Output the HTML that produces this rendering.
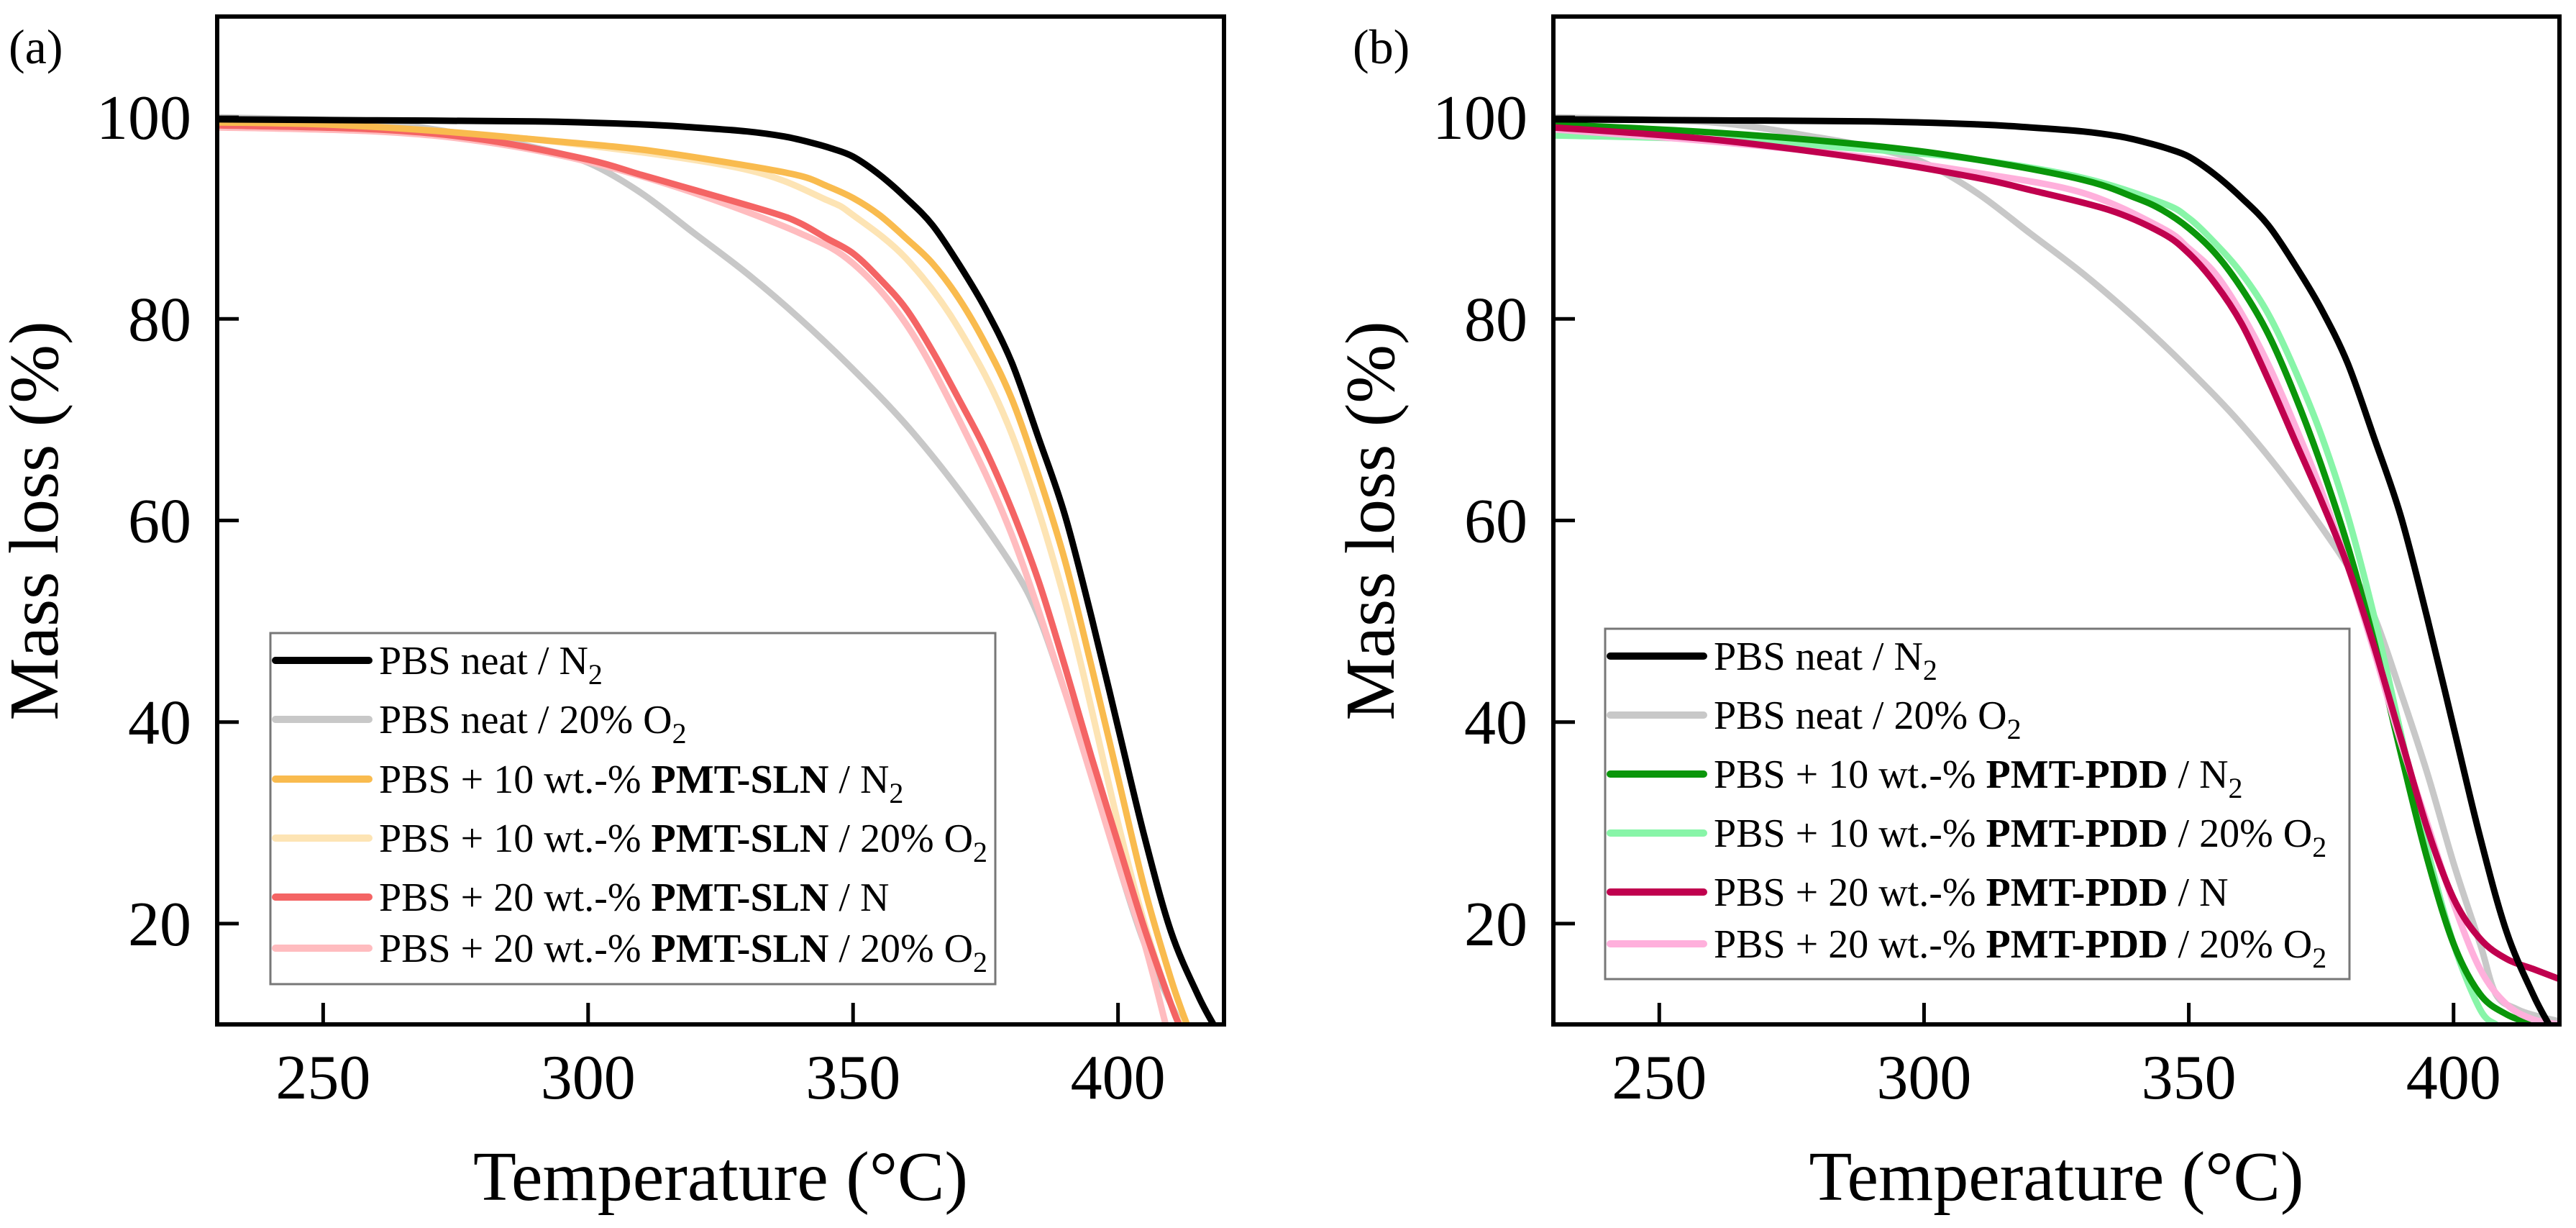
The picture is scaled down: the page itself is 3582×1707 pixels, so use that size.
<!DOCTYPE html>
<html><head><meta charset="utf-8"><style>
html,body{margin:0;padding:0;background:#fff;}
svg{display:block;}
svg text{font-family:"Liberation Serif","Times New Roman","DejaVu Serif",serif;}
</style></head><body>
<svg id="fig" width="3582" height="1707" viewBox="0 0 3582 1707" xmlns="http://www.w3.org/2000/svg"></svg>
<script>
// ---- data ----
const xTicks = [250, 300, 350, 400];
const yTicks = [20, 40, 60, 80, 100];
const xDomain = [230, 420];
const yDomain = [10, 110];

const tA_black = [230,260,290,310,320,330,337,342,346,350,355,360,365,370,375,380,385,390,395,400,405,410,415,418];
const mA_black = [99.8,99.7,99.6,99.3,99,98.6,98.1,97.5,96.9,96.1,94.3,92,89.3,85.4,81,75.6,68.2,60.5,50.4,39.5,28.6,19.2,13,10];
const tA_gray = [230,260,280,290,300,310,320,330,340,350,360,370,380,385,390,395,400,405,410,412];
const mA_gray = [100,99.5,98,97,95.5,92.5,88.5,84.5,80,75,69.5,63,55.5,50.5,43,35,26,18,12,10];
const tA_orange = [230,250,270,290,310,330,340,345,350,355,360,365,370,375,380,385,390,395,400,405,410,413];
const mA_orange = [99.5,99.3,98.7,97.8,96.8,95.2,94.2,93.2,92,90.3,88,85.5,82,77.5,72,64.5,56,45.5,34.5,23.5,14.5,10];
const tA_yellow = [230,270,300,330,345,350,360,370,380,390,400,405,410,412];
const mA_yellow = [99.8,98.7,97.2,94.8,91.8,90.3,86,79,68.5,52,30,20,12,10];
const tA_red = [230,260,280,300,310,320,335,340,345,350,355,360,365,370,375,380,385,390,395,400,405,410,411.5];
const mA_red = [99.2,98.8,97.8,95.8,94.3,92.8,90.5,89.5,88,86.5,84,81,76.8,72,67,61,54,45.5,36.5,28,19.5,12,10];
const tA_pink = [230,260,280,300,320,340,350,360,370,380,390,400,405,409];
const mA_pink = [99,98.6,97.6,95.6,92.5,88.5,85.5,79.5,70,58.5,43,26,18,10];

const tB_black = tA_black, mB_black = mA_black;
const tB_gray = [230,260,280,290,300,310,320,330,340,350,360,370,380,385,390,395,400,405,408,412,416,420];
const mB_gray = [100,99.5,98,97,95.5,92.5,88.5,84.5,80,75,69.5,63,55.5,50.5,43,35,26,18,13,11.5,10.8,10.3];
const tB_green = [230,260,290,310,330,340,345,350,355,360,365,370,375,380,385,390,395,400,405,410,415];
const mB_green = [99.3,98.5,97.2,95.8,93.8,92,90.8,89,86.5,83,78.5,72.5,65.5,57.5,48,37,26.5,18,13,11,10];
const tB_lgreen = [230,260,290,310,330,345,350,355,360,365,370,375,380,385,390,395,400,405,408];
const mB_lgreen = [98.2,97.8,96.8,95.8,94,91.5,90,87.5,84.5,80.5,75,68.5,60.5,50.5,39,27.5,18,11.5,10];
const tB_crimson = [230,260,290,310,320,335,345,350,355,360,365,370,375,380,385,390,395,400,405,410,415,420];
const mB_crimson = [99,97.8,95.8,94,92.8,90.8,88.5,86.5,83.5,79.5,74,68,62,55.5,47.5,38.5,29.5,22.5,18.5,16.5,15.5,14.5];
const tB_pink = [230,260,290,310,330,345,350,355,360,365,370,375,380,385,390,395,400,405,410,415,420];
const mB_pink = [98.8,97.6,96,94.5,92.5,89,87,84.5,80.5,75.5,69.5,63,55.5,47,38,30,22,15.5,12,10.5,10];

const legendA = [
 {c:'#000000', parts:[['PBS neat / N',0],['2',2]]},
 {c:'#c8c8c8', parts:[['PBS neat / 20% O',0],['2',2]]},
 {c:'#f9bb4e', parts:[['PBS + 10 wt.-% ',0],['PMT-SLN',1],[' / N',0],['2',2]]},
 {c:'#fde4b4', parts:[['PBS + 10 wt.-% ',0],['PMT-SLN',1],[' / 20% O',0],['2',2]]},
 {c:'#f46464', parts:[['PBS + 20 wt.-% ',0],['PMT-SLN',1],[' / N',0]]},
 {c:'#ffbcbf', parts:[['PBS + 20 wt.-% ',0],['PMT-SLN',1],[' / 20% O',0],['2',2]]}
];
const legendB = [
 {c:'#000000', parts:[['PBS neat / N',0],['2',2]]},
 {c:'#c8c8c8', parts:[['PBS neat / 20% O',0],['2',2]]},
 {c:'#0a960a', parts:[['PBS + 10 wt.-% ',0],['PMT-PDD',1],[' / N',0],['2',2]]},
 {c:'#88f5a8', parts:[['PBS + 10 wt.-% ',0],['PMT-PDD',1],[' / 20% O',0],['2',2]]},
 {c:'#c0004e', parts:[['PBS + 20 wt.-% ',0],['PMT-PDD',1],[' / N',0]]},
 {c:'#ffb0dc', parts:[['PBS + 20 wt.-% ',0],['PMT-PDD',1],[' / 20% O',0],['2',2]]}
];

const NS='http://www.w3.org/2000/svg';
const FONT='"Liberation Serif", "Times New Roman", serif';
const svg=document.getElementById('fig');
function mk(tag,attrs,parent){const e=document.createElementNS(NS,tag);for(const k in attrs)e.setAttribute(k,attrs[k]);if(tag==='text')e.setAttribute('font-family',FONT);(parent||svg).appendChild(e);return e;}

function smoothPath(P){
  let d='M'+P[0][0].toFixed(1)+','+P[0][1].toFixed(1);
  for(let i=0;i<P.length-1;i++){
    const p0=P[Math.max(0,i-1)],p1=P[i],p2=P[i+1],p3=P[Math.min(P.length-1,i+2)];
    const c1=[p1[0]+(p2[0]-p0[0])/6,p1[1]+(p2[1]-p0[1])/6];
    const c2=[p2[0]-(p3[0]-p1[0])/6,p2[1]-(p3[1]-p1[1])/6];
    d+='C'+c1[0].toFixed(1)+','+c1[1].toFixed(1)+' '+c2[0].toFixed(1)+','+c2[1].toFixed(1)+' '+p2[0].toFixed(1)+','+p2[1].toFixed(1);
  }
  return d;
}

function panel(id,L,R,T,B,series,legend,lg,label,labelX,ytX){
  const g=mk('g',{});
  
  
  const sx=v=>L+(v-xDomain[0])/(xDomain[1]-xDomain[0])*(R-L);
  const sy=v=>B-(v-yDomain[0])/(yDomain[1]-yDomain[0])*(B-T);
  const cp=mk('clipPath',{id:'clip'+id},g);
  mk('rect',{x:L,y:T,width:R-L,height:B-T},cp);
  const sg=mk('g',{'clip-path':'url(#clip'+id+')'},g);
  series.forEach(s=>{
    const P=s.t.map((t,i)=>[sx(t),sy(s.m[i])]);
    const p=mk('path',{d:smoothPath(P),fill:'none',stroke:s.c,'stroke-width':9,'stroke-linejoin':'round','stroke-linecap':'round'},sg);
    
    
  });
  const box=mk('rect',{x:L,y:T,width:R-L,height:B-T,fill:'none',stroke:'#000','stroke-width':6},g);
  
  
  xTicks.forEach(v=>{
    mk('line',{x1:sx(v),x2:sx(v),y1:B,y2:B-30,stroke:'#000','stroke-width':5},g);
    const t=mk('text',{x:sx(v),y:1527,'font-size':88,'text-anchor':'middle'},g);
    t.textContent=v;
    
    
  });
  yTicks.forEach(v=>{
    mk('line',{x1:L,x2:L+30,y1:sy(v),y2:sy(v),stroke:'#000','stroke-width':5},g);
    const t=mk('text',{x:L-36,y:sy(v)+30,'font-size':88,'text-anchor':'end'},g);
    t.textContent=v;
    
    
  });
  const xt=mk('text',{x:(L+R)/2,y:1668,'font-size':98,'text-anchor':'middle'},g);
  xt.textContent='Temperature (°C)';
  
  
  const yt=mk('text',{x:0,y:0,'font-size':98,'text-anchor':'middle',transform:'translate('+ytX+',724) rotate(-90)'},g);
  yt.textContent='Mass loss (%)';
  
  
  const pl=mk('text',{x:labelX,y:88,'font-size':68},g);
  pl.textContent=label;
  
  
  const lgG=mk('g',{},g);
  
  
  mk('rect',{x:lg.x,y:lg.y,width:lg.w,height:lg.h,fill:'#fff',stroke:'#777','stroke-width':3},lgG);
  legend.forEach((e,i)=>{
    const yy=lg.ys[i];
    const en=mk('g',{},lgG);
    
    
    mk('line',{x1:lg.x+7,x2:lg.x+137,y1:yy,y2:yy,stroke:e.c,'stroke-width':10,'stroke-linecap':'round'},en);
    const t=mk('text',{x:lg.x+151,y:yy+19,'font-size':56},en);
    e.parts.forEach(p=>{
      const ts=mk('tspan',{},t);
      if(p[1]===1) ts.setAttribute('font-weight','bold');
      if(p[1]===2){ts.setAttribute('font-size','40');ts.setAttribute('dy','14');}
      ts.textContent=p[0];
    });
  });
}

panel('a',302,1702,23,1424,[
 {n:'pbs-neat-o2',t:tA_gray,m:mA_gray,c:'#c8c8c8'},
 {n:'pmt-sln-20-o2',t:tA_pink,m:mA_pink,c:'#ffbcbf'},
 {n:'pmt-sln-10-o2',t:tA_yellow,m:mA_yellow,c:'#fde4b4'},
 {n:'pmt-sln-20-n',t:tA_red,m:mA_red,c:'#f46464'},
 {n:'pmt-sln-10-n2',t:tA_orange,m:mA_orange,c:'#f9bb4e'},
 {n:'pbs-neat-n2',t:tA_black,m:mA_black,c:'#000000'}
],legendA,{x:376,y:880,w:1008,h:488,ys:[918,1000,1083,1165,1247,1318]},'(a)',12,80);

panel('b',2160,3559,23,1424,[
 {n:'pbs-neat-o2',t:tB_gray,m:mB_gray,c:'#c8c8c8'},
 {n:'pmt-pdd-10-o2',t:tB_lgreen,m:mB_lgreen,c:'#88f5a8'},
 {n:'pmt-pdd-10-n2',t:tB_green,m:mB_green,c:'#0a960a'},
 {n:'pmt-pdd-20-o2',t:tB_pink,m:mB_pink,c:'#ffb0dc'},
 {n:'pmt-pdd-20-n',t:tB_crimson,m:mB_crimson,c:'#c0004e'},
 {n:'pbs-neat-n2',t:tB_black,m:mB_black,c:'#000000'}
],legendB,{x:2232,y:874,w:1035,h:487,ys:[912,994,1076,1158,1240,1312]},'(b)',1881,1938);
</script>
</body></html>
